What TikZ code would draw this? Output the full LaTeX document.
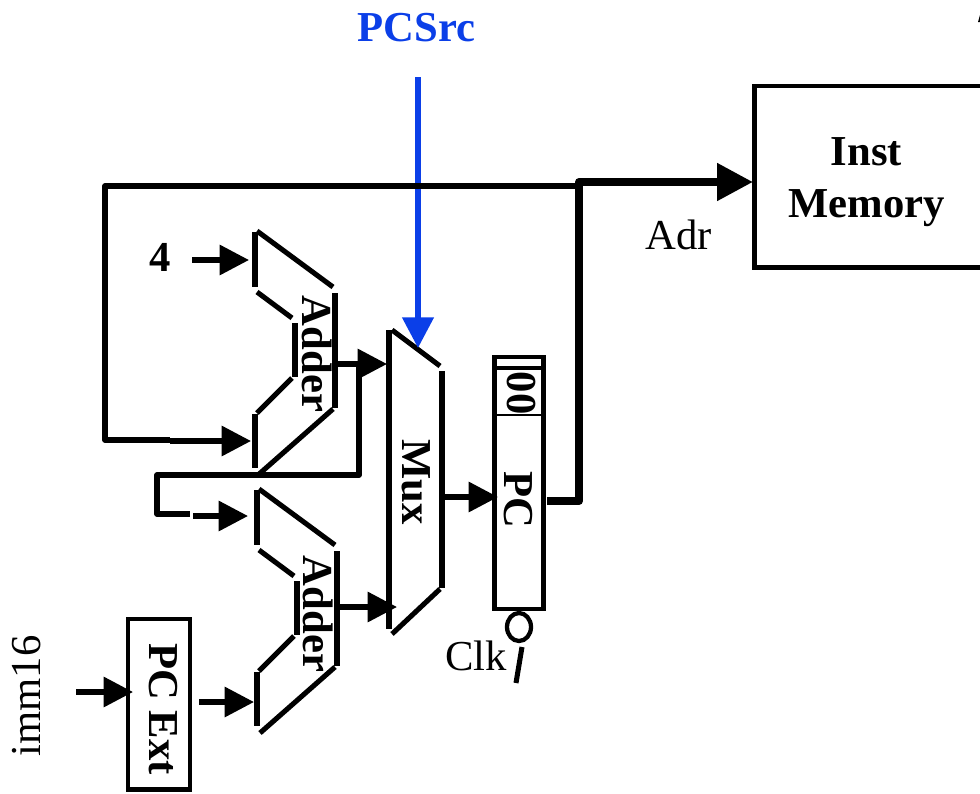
\documentclass[tikz,border=0pt]{standalone}
\usepackage{fontspec}
\setmainfont{Liberation Serif}
\usetikzlibrary{arrows.meta,shapes.geometric}
\definecolor{srcblue}{HTML}{0B3FE8}
\tikzset{
  x=0.75pt,y=-0.75pt,
  wire/.style={line width=3.9pt,line join=round,black},
  busline/.style={line width=6pt,line join=round,black},
  box/.style={draw=black,line width=3.7pt,fill=white,inner sep=0pt,outer sep=0pt},
  part/.style={line width=3.8pt,black},
  lbl/.style={inner sep=0pt,outer sep=0pt,font=\fontsize{32}{39}\selectfont},
  blbl/.style={lbl,font=\fontsize{32}{39}\selectfont\bfseries},
  tip/.style={-{Triangle[length=22pt,width=22pt]}},
  bigtip/.style={-{Triangle[length=27pt,width=27pt]}},
  bluetip/.style={-{Triangle[length=23pt,width=23pt]}},
  addershape/.pic={
    \draw[part] (0,0) -- (0,55);
    \draw[part] (2,-1) -- (78,55);
    \draw[part] (80,61) -- (80,176);
    \draw[part] (78,177) -- (3,243);
    \draw[part] (0,182) -- (0,236);
    \draw[part] (2,60) -- (37,86);
    \draw[part] (40,91) -- (40,145);
    \draw[part] (37,146) -- (2,181);
  }
}
\begin{document}
\begin{tikzpicture}
\useasboundingbox (0,0) rectangle (980,793);
\clip (0,0) rectangle (980,793);
% adders
\pic at (255,232) {addershape};
\pic at (257,490) {addershape};
% mux
\draw[part] (389,330) -- (389,629);
\draw[part] (392,330) -- (440,366);
\draw[part] (442,371) -- (442,588);
\draw[part] (440,589) -- (392,634);
% nodes
\node[box,anchor=north west,minimum width=36.5pt,minimum height=189pt] (pc) at (494.5,357) {};
\draw[line width=2.6pt] (494.5,368) -- (543,368);
\draw[line width=1.2pt] (494.5,415) -- (543,415);
\node[box,anchor=north west,minimum width=46.5pt,minimum height=128pt] (ext) at (128,619) {};
\node[box,anchor=north west,minimum width=200pt,minimum height=136pt] (mem) at (754.5,86) {};
% labels
\node[blbl,text=srcblue] (srclabel) at (416.5,28) {PCSrc};
\node[blbl,align=center] (memlabel) at (866.5,182.5) {Inst\\Memory};
\node[lbl] (adrlabel) at (678.5,234.5) {Adr};
\node[blbl] (four) at (160,257) {4};
\node[blbl,rotate=-90] (add1) at (317,354) {Adder};
\node[blbl,rotate=-90] (add2) at (318,614) {Adder};
\node[blbl,rotate=-90] (muxlabel) at (416,482) {Mux};
\node[blbl,rotate=-90] (zeros) at (521,393) {00};
\node[blbl,rotate=-90] (pclabel) at (518,500) {PC};
\node[blbl,rotate=-90] (extlabel) at (163,709) {PC Ext};
\node[lbl,rotate=90] (imm) at (26.5,696) {imm16};
\node[lbl] (clklabel) at (476,656) {Clk};
% clock
\node[draw=black,line width=3.2pt,ellipse,minimum width=18pt,minimum height=21pt,inner sep=0pt] (clk) at (519,627) {};
\coordinate (tickA) at (522,647);
\coordinate (tickB) at (516,683);
\draw[line width=3.8pt] (tickA) -- (tickB);
% coordinates of connectors
\coordinate (srctop) at (418,77);
\coordinate (srcend) at (418,348);
\coordinate (fourstart) at (192,260);
\coordinate (fourend) at (249,260);
\coordinate (busa) at (547,501);
\coordinate (busb) at (579,501);
\coordinate (busc) at (579,182);
\coordinate (memin) at (753,182);
\coordinate (fbstart) at (579,186);
\coordinate (fbend) at (251,441);
\coordinate (addonea) at (337,364);
\coordinate (muxa) at (387,364);
\coordinate (branch) at (359,364);
\coordinate (addtwoin) at (248,516);
\coordinate (addtwoa) at (339,607);
\coordinate (muxb) at (397,607);
\coordinate (muxout) at (445,497);
\coordinate (pcin) at (498,497);
\coordinate (immstart) at (76,692);
\coordinate (extin) at (133,692);
\coordinate (extout) at (199,702);
\coordinate (addtwob) at (254,702);
% connectors
\draw[line width=4.1pt,srcblue,bluetip] (srctop) -- (srcend);
\draw[wire,tip] (fourstart) -- (fourend);
\draw[wire] (fbstart) -- (105,186) -- (105,440) -- (170,440);
\draw[wire,tip] (170,441) -- (fbend);
\draw[busline] (busa) -- (busb) -- (busc) -- (725,182);
\draw[line width=6pt,bigtip] (715,182) -- (memin);
\draw[wire,tip] (addonea) -- (muxa);
\draw[wire] (branch) -- (359,475) -- (157,475) -- (157,514) -- (190,514);
\draw[wire,tip] (193,516) -- (addtwoin);
\draw[wire,tip] (addtwoa) -- (muxb);
\draw[wire,tip] (muxout) -- (pcin);
\draw[wire,tip] (immstart) -- (extin);
\draw[wire,tip] (extout) -- (addtwob);
% clipped mark at the top right corner
\fill (978,22) -- (980,15) -- (980,22) -- cycle;
\end{tikzpicture}
\end{document}
